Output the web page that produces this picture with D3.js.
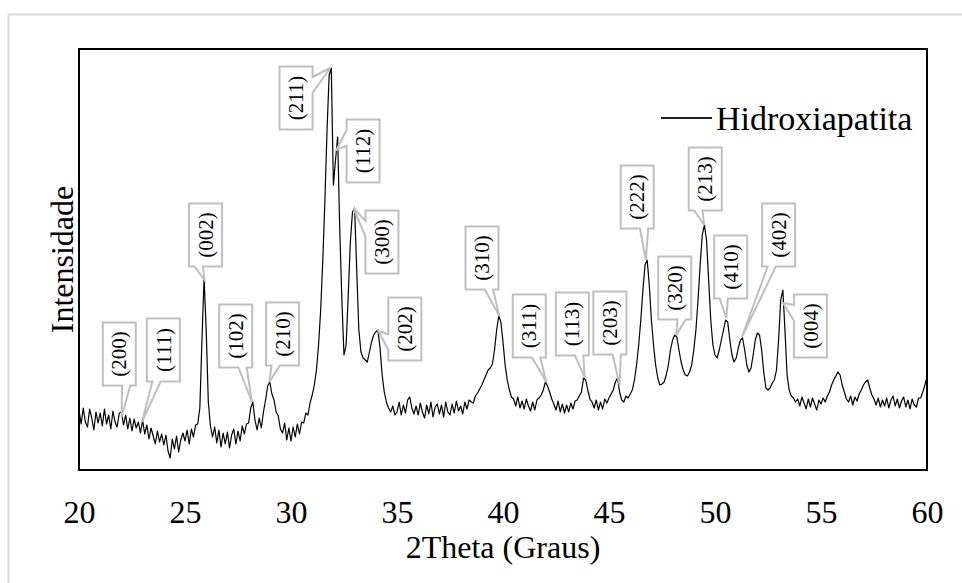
<!DOCTYPE html>
<html>
<head>
<meta charset="utf-8">
<script src="https://cdn.jsdelivr.net/npm/d3@7"></script>
<style>
  body { margin: 0; background: #fff; }
  svg { display: block; }
</style>
</head>
<body>
<svg id="chart" width="962" height="583"></svg>
<script>
// difratograma: 2theta de 20 a 60 graus, passo 0.1 (uma linha por grau)
thetaStart = 20
thetaStep = 0.1
intensity = [
  60, 46, 62, 48, 43, 61, 52, 40, 58, 47,
  57, 44, 61, 46, 55, 41, 59, 48, 43, 57,
  58, 45, 55, 41, 52, 39, 51, 42, 48, 37,
  50, 36, 45, 31, 42, 34, 26, 39, 28, 36,
  25, 35, 19, 12, 31, 21, 34, 18, 30, 37,
  29, 40, 26, 41, 33, 45, 46, 62, 130, 192,
  140, 68, 44, 33, 43, 27, 40, 23, 37, 26,
  38, 22, 35, 41, 26, 39, 29, 44, 36, 46,
  47, 62, 68, 50, 40, 52, 42, 58, 70, 84,
  88, 76, 70, 58, 54, 41, 37, 47, 30, 42,
  29, 43, 33, 46, 36, 48, 47, 57, 55, 67,
  75, 85, 100, 125, 160, 210, 270, 340, 395, 402,
  285, 310, 333, 240, 170, 115, 125, 175, 228, 258,
  262, 200, 140, 118, 112, 110, 108, 118, 128, 135,
  138, 140, 122, 95, 78, 68, 62, 58, 64, 55,
  58, 68, 55, 65, 57, 70, 73, 62, 56, 64,
  55, 67, 58, 52, 65, 56, 68, 53, 63, 66,
  56, 65, 53, 68, 58, 55, 66, 57, 69, 59,
  64, 56, 68, 61, 70, 68, 67, 74, 77, 81,
  85, 90, 95, 100, 102, 106, 120, 140, 154, 148,
  128, 105, 90, 80, 73, 71, 64, 73, 62, 69,
  61, 71, 64, 59, 68, 60, 70, 72, 75, 80,
  88, 84, 78, 71, 66, 60, 69, 58, 66, 57,
  65, 58, 67, 61, 69, 70, 74, 78, 92, 90,
  80, 71, 68, 62, 70, 60, 68, 61, 71, 67,
  72, 76, 80, 88, 92, 78, 70, 68, 74, 72,
  76, 80, 90, 105, 125, 150, 180, 205, 210, 185,
  150, 125, 105, 92, 85, 86, 88, 95, 105, 120,
  130, 135, 133, 120, 108, 100, 95, 94, 98, 105,
  120, 140, 170, 205, 235, 245, 230, 190, 150, 125,
  115, 112, 120, 130, 140, 150, 148, 130, 115, 108,
  112, 122, 130, 132, 120, 105, 98, 102, 115, 130,
  137, 135, 120, 98, 82, 80, 82, 87, 90, 100,
  130, 170, 180, 140, 95, 80, 74, 72, 68, 71,
  64, 73, 67, 61, 71, 63, 72, 66, 60, 70,
  66, 72, 68, 74, 78, 85, 90, 94, 98, 95,
  85, 78, 71, 68, 74, 65, 73, 69, 76, 80,
  85, 88, 90, 82, 75, 71, 65, 72, 63, 70,
  64, 72, 62, 70, 74, 64, 71, 62, 69, 73,
  63, 70, 61, 71, 65, 63, 72, 72, 78, 85,
  93
]
xTicks = [20, 25, 30, 35, 40, 45, 50, 55, 60]

// indices de Miller: ponta da seta (pico) e centro da caixa, em coordenadas dos dados
peakLabels = ["(200)", "(111)", "(002)", "(102)", "(210)", "(211)", "(112)", "(300)", "(202)", "(310)",
              "(311)", "(113)", "(203)", "(222)", "(320)", "(213)", "(410)", "(402)", "(004)"]
tipTheta  = [22.01, 22.97, 25.92, 28.16, 28.98, 31.85, 32.14, 32.95, 34.12, 39.83,
             42.04, 43.85, 45.50, 46.74, 48.17, 49.49, 50.53, 51.27, 53.21]
tipLevel  = [53, 48, 190, 68, 88, 402, 320, 262, 139, 154,
             88, 93, 85, 210, 135, 245, 152, 133, 167]
boxTheta  = [21.90, 23.98, 25.97, 27.39, 29.60, 30.24, 33.40, 34.29, 35.37, 39.01,
             41.24, 43.27, 45.04, 46.33, 48.10, 49.54, 50.74, 53.00, 54.50]
boxLevel  = [116, 120, 235, 134, 136, 372, 319, 228, 141, 212,
             144, 146, 147, 273, 182, 291, 203, 235, 144]

svg = d3.select("#chart")
W = 962
H = 583
margin = {left: 79, right: 35, top: 49, bottom: 113}
serifFont = "Liberation Serif"

x = d3.scaleLinear().domain([20, 60]).range([margin.left, W - margin.right])
y = d3.scaleLinear().domain([0, 421]).range([H - margin.bottom, margin.top])

// moldura cinza externa
svg.append("rect").attr("x", 8.5).attr("y", 14.5).attr("width", 1000).attr("height", 600)
  .attr("fill", "none").attr("stroke", "#d9d9d9").attr("stroke-width", 2)

data = intensity.map(function(d, i){ return {t: thetaStart + i*thetaStep, v: d} })

line = d3.line().x(function(d){ return x(d.t) }).y(function(d){ return y(d.v) })
svg.append("path").datum(data).attr("d", line)
  .attr("fill", "none").attr("stroke", "#000").attr("stroke-width", 1.2).attr("stroke-linejoin", "round")

// moldura da area do grafico
svg.append("rect").attr("x", x(20)).attr("y", y(421)).attr("width", x(60) - x(20)).attr("height", y(0) - y(421))
  .attr("fill", "none").attr("stroke", "#000").attr("stroke-width", 2)

// eixo x: so os rotulos, sem tracos
xAxis = d3.axisBottom(x).tickValues(xTicks).tickSize(0).tickPadding(30)
gx = svg.append("g").attr("transform", "translate(0," + y(0) + ")").call(xAxis)
gx.attr("font-family", null).attr("font-size", null)
gx.select(".domain").remove()
gx.selectAll("text").style("font-family", serifFont).style("font-size", "32px").attr("fill", "#000")

svg.append("text").attr("x", (x(20) + x(60))/2).attr("y", 558).attr("text-anchor", "middle")
  .style("font-family", serifFont).style("font-size", "32px").text("2Theta (Graus)")
svg.append("text").attr("transform", "translate(73," + (y(0) + y(421))/2 + ") rotate(-90)")
  .attr("text-anchor", "middle").style("font-family", serifFont).style("font-size", "32px").text("Intensidade")

// legenda
svg.append("line").attr("x1", 661).attr("x2", 712).attr("y1", 118).attr("y2", 118)
  .attr("stroke", "#222").attr("stroke-width", 2)
svg.append("text").attr("x", 716).attr("y", 118).attr("dy", "0.35em")
  .style("font-family", serifFont).style("font-size", "34px").text("Hidroxiapatita")

// caixas de rotulo com seta (estilo callout)
function calloutPath(cx, cy, w, h, tx, ty){
  l = cx - w/2; t = cy - h/2; r = cx + w/2; b = cy + h/2
  dxPos = tx - cx; dyPos = ty - cy
  x1 = l + w*(dxPos > 0 ? 7 : 2)/12
  x2 = l + w*(dxPos > 0 ? 10 : 5)/12
  y1 = t + h*(dyPos > 0 ? 7 : 2)/12
  y2 = t + h*(dyPos > 0 ? 10 : 5)/12
  horiz = Math.abs(dxPos)*h > Math.abs(dyPos)*w
  p = d3.path()
  p.moveTo(l, t)
  if(!horiz && dyPos < 0){ p.lineTo(x1, t); p.lineTo(tx, ty); p.lineTo(x2, t) }
  p.lineTo(r, t)
  if(horiz && dxPos > 0){ p.lineTo(r, y1); p.lineTo(tx, ty); p.lineTo(r, y2) }
  p.lineTo(r, b)
  if(!horiz && dyPos > 0){ p.lineTo(x2, b); p.lineTo(tx, ty); p.lineTo(x1, b) }
  p.lineTo(l, b)
  if(horiz && dxPos < 0){ p.lineTo(l, y2); p.lineTo(tx, ty); p.lineTo(l, y1) }
  p.closePath()
  return p.toString()
}

boxW = 33
boxH = 63
labels = svg.append("g").selectAll("g").data(peakLabels).join("g")
labels.append("path")
  .attr("d", function(d, i){ return calloutPath(x(boxTheta[i]), y(boxLevel[i]), boxW, boxH, x(tipTheta[i]), y(tipLevel[i])) })
  .attr("fill", "#fff").attr("stroke", "#bfbfbf").attr("stroke-width", 2)
labels.append("text")
  .attr("transform", function(d, i){ return "translate(" + x(boxTheta[i]) + "," + y(boxLevel[i]) + ") rotate(-90)" })
  .attr("text-anchor", "middle").attr("dy", "0.34em").attr("fill", "#000")
  .style("font-family", serifFont).style("font-size", "21px")
  .text(function(d){ return d })
</script>
</body>
</html>
